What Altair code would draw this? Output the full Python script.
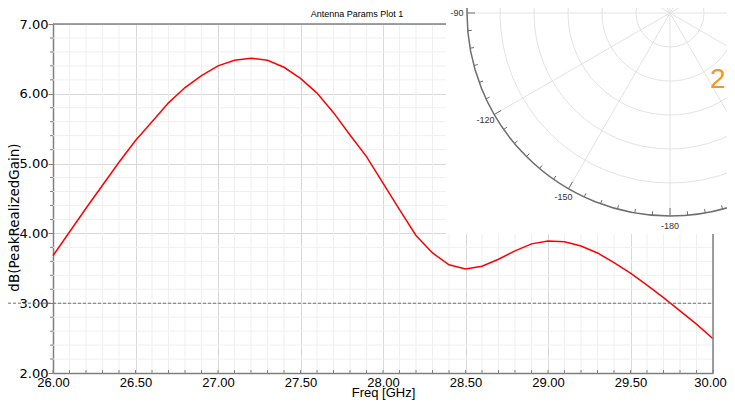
import math
import altair as alt
import pandas as pd

# ---------------- data ----------------
freq = [26.0, 26.1, 26.2, 26.3, 26.4, 26.5, 26.6, 26.7, 26.8, 26.9,
        27.0, 27.1, 27.2, 27.3, 27.4, 27.5, 27.6, 27.7, 27.8, 27.9,
        28.0, 28.1, 28.2, 28.3, 28.4, 28.5, 28.6, 28.7, 28.8, 28.9,
        29.0, 29.1, 29.2, 29.3, 29.4, 29.5, 29.6, 29.7, 29.8, 29.9, 30.0]
gain = [3.68, 4.02, 4.36, 4.69, 5.02, 5.33, 5.60, 5.87, 6.09, 6.26,
        6.40, 6.48, 6.51, 6.48, 6.38, 6.22, 6.01, 5.73, 5.41, 5.10,
        4.72, 4.34, 3.97, 3.72, 3.55, 3.49, 3.53, 3.63, 3.75, 3.85,
        3.89, 3.88, 3.82, 3.72, 3.58, 3.43, 3.26, 3.08, 2.89, 2.70, 2.49]

x_major_ticks = [26.0, 26.5, 27.0, 27.5, 28.0, 28.5, 29.0, 29.5, 30.0]
x_minor_ticks = [round(26 + 0.1 * i, 1) for i in range(41) if i % 5 != 0]
y_major_ticks = [2.0, 3.0, 4.0, 5.0, 6.0, 7.0]
y_minor_ticks = [round(2 + 0.2 * i, 1) for i in range(26) if i % 5 != 0]
ref_level = [3.0]

plot_title = "Antenna Params Plot 1"
x_title = "Freq [GHz]"
y_title = "dB(PeakRealizedGain)"

# overlapping polar window (screen artefact in the reference)
polar_ring_radii = [34, 68, 102, 136, 170]
polar_outer = [203]
polar_spoke_angles = [-180, -150, -120, -90, -60, -30, 0, 30, 60, 90, 120, 150]
polar_label_angles = [-90, -120, -150, -180]
polar_label_text = ["-90", "-120", "-150", "-180"]
polar_tick_angles = [-180 + 5 * i for i in range(72)]
polar_big_label = ["27"]

W, H = 660, 349
CX, CY = 617, -11  # polar centre in plot pixels

# ---------------- frames ----------------
df = pd.DataFrame({"Freq": freq, "Gain": gain})
xminor = pd.DataFrame({"Freq": x_minor_ticks})
xall = pd.DataFrame({"Freq": x_major_ticks + x_minor_ticks})
yminor = pd.DataFrame({"Gain": y_minor_ticks})
ref = pd.DataFrame({"Gain": ref_level})

x_scale = alt.Scale(domain=[26, 30], nice=False, zero=False)
y_scale = alt.Scale(domain=[2, 7], nice=False, zero=False)

NARROW = "Liberation Sans Narrow, Arial Narrow, Liberation Sans"

x_axis = alt.Axis(
    values=x_major_ticks,
    format=".2f",
    grid=True,
    gridColor="#d9d9d9",
    gridWidth=1,
    ticks=False,
    domainColor="#808080",
    domainWidth=1.5,
    labelFont=NARROW,
    labelFontSize=13,
    labelColor="#000000",
    labelPadding=3,
    labelOverlap=False,
    labelFlush=False,
    labelOffset={"condition": {"test": "datum.value >= 29.99", "value": -3}, "value": 0},
    title=x_title,
    titleFont=NARROW,
    titleFontSize=13,
    titleFontWeight="normal",
    titleColor="#000000",
    titlePadding=-3,
)

y_axis = alt.Axis(
    values=y_major_ticks,
    format=".2f",
    grid=True,
    gridColor="#d9d9d9",
    gridWidth=1,
    ticks=True,
    tickColor="#808080",
    tickSize=5,
    domainColor="#808080",
    domainWidth=1.5,
    labelFont="DejaVu Sans",
    labelFontSize=13,
    labelColor="#000000",
    labelPadding=0,
    labelOverlap=False,
    labelFlush=False,
    title=y_title,
    titleFont="DejaVu Sans",
    titleFontSize=13.5,
    titleFontWeight="normal",
    titleColor="#000000",
    titleX=-38.5,
    titleY=193,
    titleAlign="center",
    titleBaseline="middle",
    titleAngle=270,
)

minor_grid_x = alt.Chart(xminor).mark_rule(color="#efefef", strokeWidth=1).encode(
    x=alt.X("Freq:Q", scale=x_scale, axis=x_axis),
    y=alt.value(0),
    y2=alt.value(H),
)
minor_grid_y = alt.Chart(yminor).mark_rule(color="#efefef", strokeWidth=1).encode(
    y=alt.Y("Gain:Q", scale=y_scale, axis=y_axis),
    x=alt.value(0),
    x2=alt.value(W),
)
minor_ticks_y = alt.Chart(yminor).mark_rule(color="#808080", strokeWidth=1).encode(
    y=alt.Y("Gain:Q", scale=y_scale),
    x=alt.value(-3),
    x2=alt.value(0),
)

line = alt.Chart(df).mark_line(color="#ff0000", strokeWidth=1.5).encode(
    x=alt.X("Freq:Q", scale=x_scale),
    y=alt.Y("Gain:Q", scale=y_scale),
)

dashed = alt.Chart(ref).mark_rule(color="#707070", strokeWidth=1, strokeDash=[3, 2]).encode(
    y=alt.Y("Gain:Q", scale=y_scale),
    x=alt.value(-60),
    x2=alt.value(W),
)

x_inner_ticks = alt.Chart(xall).mark_rule(color="#808080", strokeWidth=1).encode(
    x=alt.X("Freq:Q", scale=x_scale),
    y=alt.value(H - 3),
    y2=alt.value(H),
)

frame_top = alt.Chart(ref).mark_rule(color="#808080", strokeWidth=1.5).encode(
    x=alt.value(0), x2=alt.value(W), y=alt.value(0)
)
frame_right = alt.Chart(ref).mark_rule(color="#808080", strokeWidth=1.5).encode(
    x=alt.value(W), y=alt.value(0), y2=alt.value(H)
)

title_txt = alt.Chart(pd.DataFrame({"t": [plot_title]})).mark_text(
    font="Liberation Sans", fontSize=9, color="#000000", align="center", baseline="alphabetic"
).encode(text="t:N", x=alt.value(304), y=alt.value(-7))

# ---------------- polar overlay ----------------
overlay = alt.Chart(ref).mark_rect(color="#ffffff", opacity=1).encode(
    x=alt.value(393), x2=alt.value(720), y=alt.value(-30), y2=alt.value(210)
)

rings = pd.DataFrame({"r": polar_ring_radii})
rings["s"] = (2 * rings["r"]) ** 2
rings["cx"] = CX
rings["cy"] = CY
ring_layer = alt.Chart(rings).mark_point(
    shape="circle", filled=False, color="#e3e3e3", strokeWidth=1, opacity=1
).encode(
    x=alt.X("cx:Q", scale=None, axis=None),
    y=alt.Y("cy:Q", scale=None, axis=None),
    size=alt.Size("s:Q", scale=None, legend=None),
)

outer = pd.DataFrame({"r": polar_outer})
outer["s"] = (2 * outer["r"]) ** 2
outer["cx"] = CX
outer["cy"] = CY
outer_layer = alt.Chart(outer).mark_point(
    shape="circle", filled=False, color="#6e6e6e", strokeWidth=1.5, opacity=1
).encode(
    x=alt.X("cx:Q", scale=None, axis=None),
    y=alt.Y("cy:Q", scale=None, axis=None),
    size=alt.Size("s:Q", scale=None, legend=None),
)


def polar_xy(angles, r):
    return ([CX + r * math.sin(math.radians(a)) for a in angles],
            [CY - r * math.cos(math.radians(a)) for a in angles])


sx1, sy1 = polar_xy(polar_spoke_angles, polar_outer[0])
spokes = pd.DataFrame({"x0": [CX] * len(sx1), "y0": [CY] * len(sx1), "x1": sx1, "y1": sy1})
spoke_layer = alt.Chart(spokes).mark_rule(color="#e3e3e3", strokeWidth=1).encode(
    x=alt.X("x0:Q", scale=None, axis=None), y=alt.Y("y0:Q", scale=None, axis=None),
    x2="x1:Q", y2="y1:Q",
)

tick_len = [8 if a % 30 == 0 else 4 for a in polar_tick_angles]
tx0, ty0 = polar_xy(polar_tick_angles, polar_outer[0])
tx1 = [CX + (polar_outer[0] - L) * math.sin(math.radians(a)) for a, L in zip(polar_tick_angles, tick_len)]
ty1 = [CY - (polar_outer[0] - L) * math.cos(math.radians(a)) for a, L in zip(polar_tick_angles, tick_len)]
ticks_df = pd.DataFrame({"x0": tx0, "y0": ty0, "x1": tx1, "y1": ty1})
tick_layer = alt.Chart(ticks_df).mark_rule(color="#6e6e6e", strokeWidth=1).encode(
    x=alt.X("x0:Q", scale=None, axis=None), y=alt.Y("y0:Q", scale=None, axis=None),
    x2="x1:Q", y2="y1:Q",
)

lx, ly = polar_xy(polar_label_angles, 213)
labels_df = pd.DataFrame({"x": lx, "y": ly, "t": polar_label_text})
label_layer = alt.Chart(labels_df).mark_text(
    font="Liberation Sans", fontSize=9, color="#333333", align="center", baseline="middle"
).encode(
    x=alt.X("x:Q", scale=None, axis=None), y=alt.Y("y:Q", scale=None, axis=None), text="t:N"
)

big_label = alt.Chart(pd.DataFrame({"t": polar_big_label})).mark_text(
    font="Liberation Sans", fontSize=28, color="#f7931e", align="left", baseline="alphabetic"
).encode(text="t:N", x=alt.value(657), y=alt.value(64))

chart = alt.layer(
    minor_grid_x, minor_grid_y, minor_ticks_y, x_inner_ticks,
    line, dashed, frame_top, frame_right, title_txt,
    overlay, ring_layer, spoke_layer, outer_layer, tick_layer, label_layer, big_label,
).properties(
    width=W, height=H,
    autosize=alt.AutoSizeParams(type="none"),
    padding={"left": 45, "top": 16, "right": 14, "bottom": 27},
    background="#ffffff",
).configure_view(strokeWidth=0)

chart.save("out.html", embed_options={"renderer": "svg", "actions": False})
